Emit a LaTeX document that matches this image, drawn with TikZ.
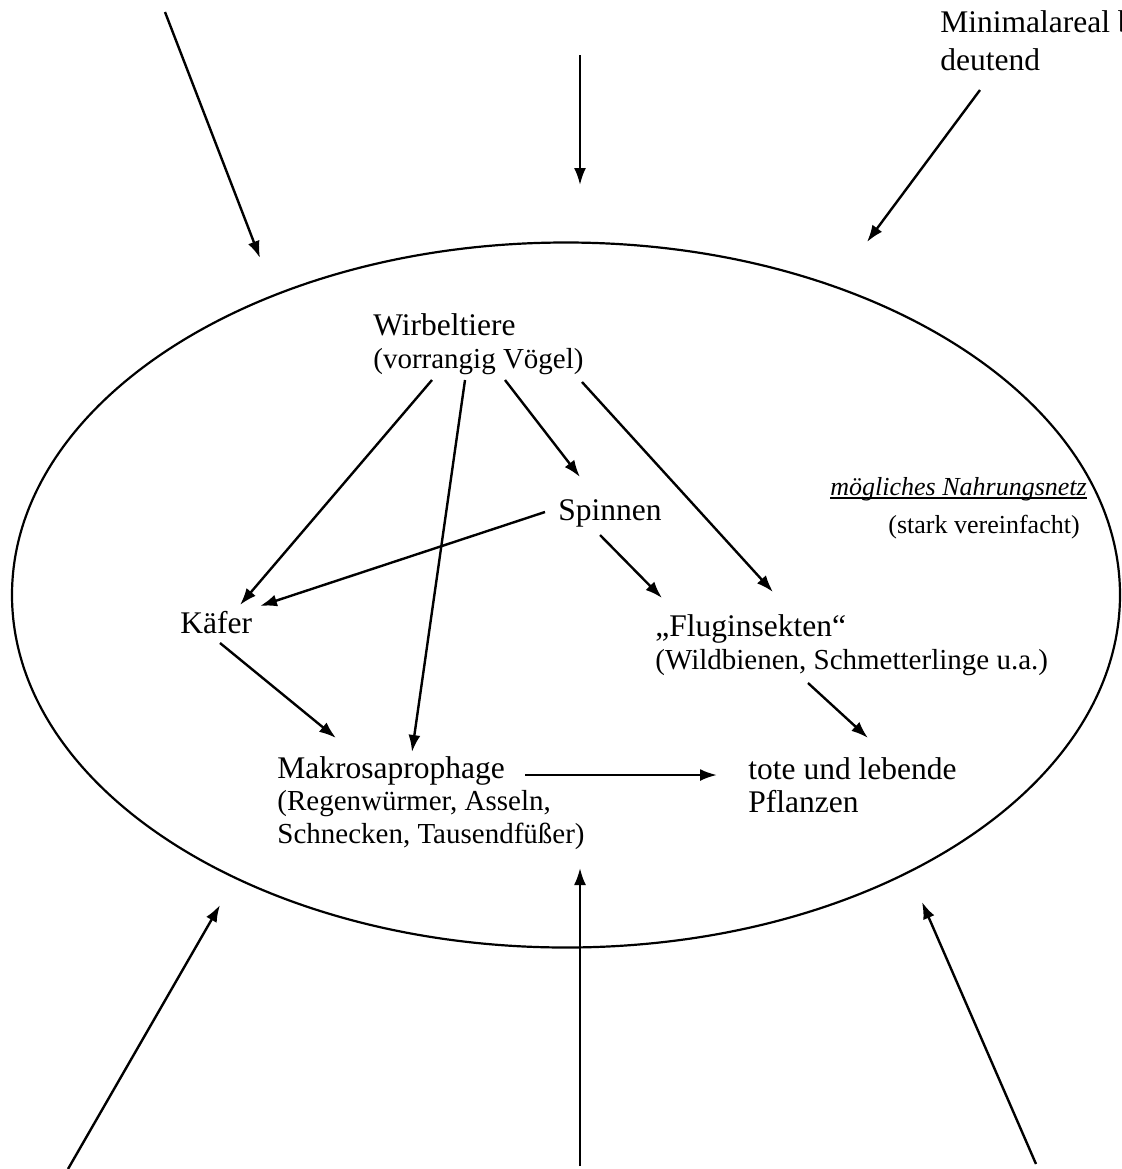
\documentclass[tikz,border=0pt]{standalone}
\usepackage{fontspec}
\setmainfont{Liberation Serif}
\usetikzlibrary{arrows.meta,shapes.geometric}

\newcommand{\hauptschrift}{\fontsize{15.75}{16.25}\selectfont}
\newcommand{\nebenschrift}{\fontsize{14.5}{16.25}\selectfont}
\newcommand{\kleinschrift}{\fontsize{13}{15}\selectfont}

\tikzset{
  pfeil/.style={-{Latex[length=8.5pt,width=6pt]}, line width=1.2pt},
  tier/.style={anchor=base west, inner sep=0pt, align=left, font=\hauptschrift},
  hinweis/.style={anchor=base west, inner sep=0pt, font=\kleinschrift},
}

\begin{document}
\begin{tikzpicture}[x=0.5pt,y=-0.5pt]
  \useasboundingbox (0,0) rectangle (1121,1169);
  \clip (0,0) rectangle (1121,1169);

  \node[draw, ellipse, line width=1.1pt, minimum width=554pt, minimum height=352.5pt, inner sep=0pt] (biotop) at (566,595) {};

  % Glieder des Nahrungsnetzes (Anker: Grundlinie der letzten Zeile)
  \node[tier] (wirbel) at (373,368) {Wirbeltiere\\{\nebenschrift (vorrangig Vögel)}};
  \node[tier] (spinnen) at (558,520) {Spinnen};
  \node[tier] (kaefer) at (180,633) {Käfer};
  \node[tier] (flug) at (655,669) {„Fluginsekten“\\{\nebenschrift (Wildbienen, Schmetterlinge u.a.)}};
  \node[tier] (makro) at (277,843) {Makrosaprophage\\{\nebenschrift (Regenwürmer, Asseln,}\\{\nebenschrift Schnecken, Tausendfüßer)}};
  \node[tier] (pflanzen) at (748,812) {tote und lebende\\Pflanzen};

  \node[hinweis] (netz) at (830,495) {\textit{mögliches Nahrungsnetz}};
  \draw[line width=0.7pt] ([yshift=-1.5pt]netz.base west) -- ([yshift=-1.5pt]netz.base east);
  \node[hinweis] (vereinf) at (888,533) {(stark vereinfacht)};
  \node[tier] (minimal) at (940,70) {Minimalareal be-\\[2.75pt]deutend};

  % Fressbeziehungen
  \draw[pfeil] ([shift={(59,12)}]wirbel.base west) -- ([shift={(60,-28)}]kaefer.base west);
  \draw[pfeil] ([shift={(92,12)}]wirbel.base west) -- ([shift={(135,-91)}]makro.base west);
  \draw[pfeil] ([shift={(132,12)}]wirbel.base west) -- ([shift={(22,-43)}]spinnen.base west);
  \draw[pfeil] ([shift={(209,14)}]wirbel.base west) -- ([shift={(118,-77)}]flug.base west);
  \draw[pfeil] ([shift={(-13,-8)}]spinnen.base west) -- ([shift={(80,-27)}]kaefer.base west);
  \draw[pfeil] ([shift={(42,15)}]spinnen.base west) -- ([shift={(7,-71)}]flug.base west);
  \draw[pfeil] ([shift={(40,10)}]kaefer.base west) -- ([shift={(59,-105)}]makro.base west);
  \draw[pfeil] ([shift={(248,-68)}]makro.base west) -- ([shift={(-31,-37)}]pflanzen.base west);
  \draw[pfeil] ([shift={(153,14)}]flug.base west) -- ([shift={(120,-74)}]pflanzen.base west);

  % Einfluesse von aussen
  \coordinate (nwA) at (165,12);   \coordinate (nwB) at (260,258);
  \coordinate (nA)  at (580,55);   \coordinate (nB)  at (580,185);
  \coordinate (neA) at (980,90);   \coordinate (neB) at (867,242);
  \coordinate (swA) at (68,1169);  \coordinate (swB) at (220,905);
  \coordinate (sA)  at (580,1166); \coordinate (sB)  at (580,868);
  \coordinate (seA) at (1036,1164);\coordinate (seB) at (922,902);

  \draw[pfeil] (nwA) -- (nwB);
  \draw[pfeil] (nA) -- (nB);
  \draw[pfeil] (neA) -- (neB);
  \draw[pfeil] (swA) -- (swB);
  \draw[pfeil] (sA) -- (sB);
  \draw[pfeil] (seA) -- (seB);
\end{tikzpicture}
\end{document}
